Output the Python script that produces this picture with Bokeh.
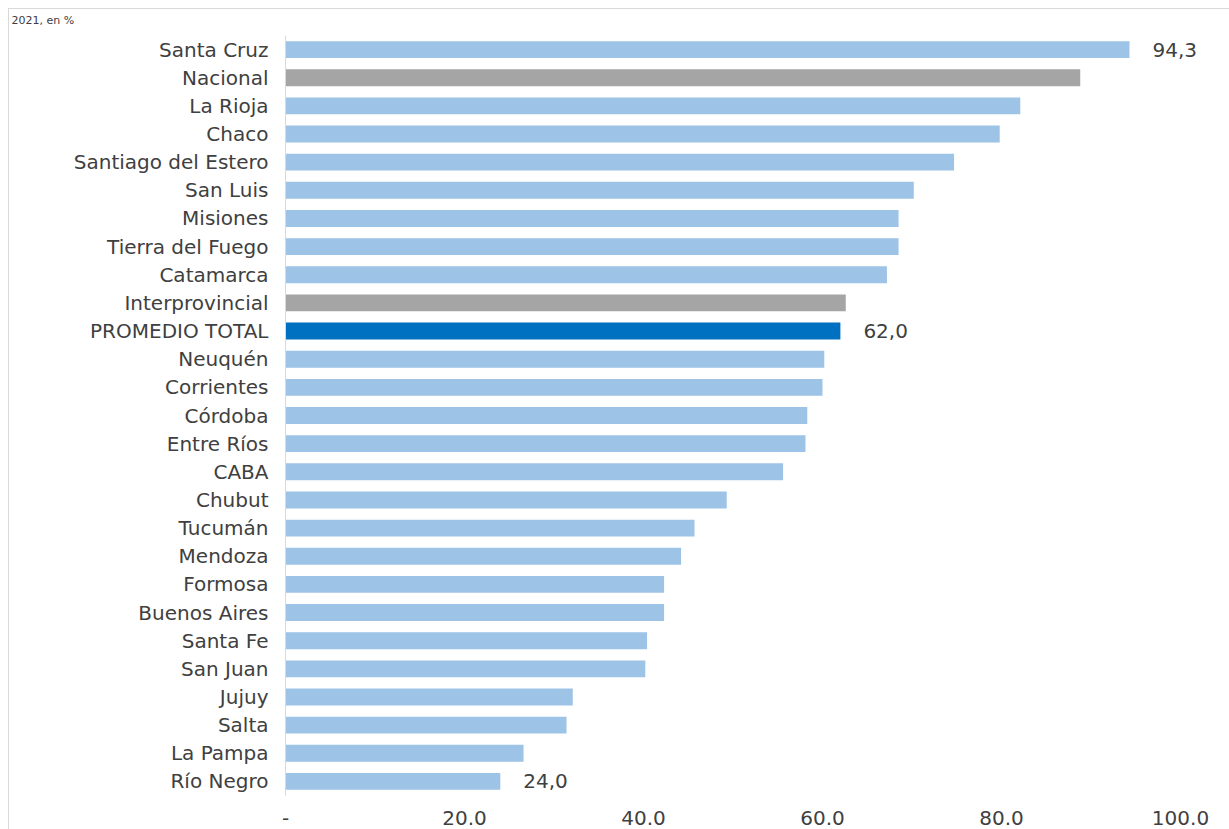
from bokeh.plotting import figure
from bokeh.models import ColumnDataSource, FixedTicker, FactorRange, Range1d
from bokeh.core.properties import value
from bokeh.embed import file_html
from bokeh.resources import INLINE

categories = ["Santa Cruz", "Nacional", "La Rioja", "Chaco", "Santiago del Estero",
              "San Luis", "Misiones", "Tierra del Fuego", "Catamarca", "Interprovincial",
              "PROMEDIO TOTAL", "Neuquén", "Corrientes", "Córdoba", "Entre Ríos", "CABA",
              "Chubut", "Tucumán", "Mendoza", "Formosa", "Buenos Aires", "Santa Fe",
              "San Juan", "Jujuy", "Salta", "La Pampa", "Río Negro"]
values = [94.3, 88.8, 82.1, 79.8, 74.7, 70.2, 68.5, 68.5, 67.2, 62.6,
          62.0, 60.2, 60.0, 58.3, 58.1, 55.6, 49.3, 45.7, 44.2, 42.3,
          42.3, 40.4, 40.2, 32.1, 31.4, 26.6, 24.0]
labelled = ["Santa Cruz", "PROMEDIO TOTAL", "Río Negro"]
tick_values = [0, 20, 40, 60, 80, 100]
tick_labels = ["-", "20.0", "40.0", "60.0", "80.0", "100.0"]
subtitle = "2021, en %"

LIGHT = "#9DC3E6"
GREY = "#A5A5A5"
BLUE = "#0070C0"
special = {"Nacional": GREY, "Interprovincial": GREY, "PROMEDIO TOTAL": BLUE}
colors = [special.get(c, LIGHT) for c in categories]

FONT = "DejaVu Sans"
TXT = "#404040"
FS = "20px"

src = ColumnDataSource(dict(cat=categories, val=values, color=colors))
lab_src = ColumnDataSource(dict(
    cat=[c for c in categories if c in labelled],
    val=[v for c, v in zip(categories, values) if c in labelled],
    txt=[f"{v:.1f}".replace(".", ",") for c, v in zip(categories, values) if c in labelled],
))

p = figure(width=1229, height=829, output_backend="svg", toolbar_location=None,
           y_range=FactorRange(factors=list(reversed(categories))),
           x_range=Range1d(0, 104.36),
           min_border_left=285, min_border_right=10, min_border_top=35, min_border_bottom=34)
p.styles = {
    "background": "linear-gradient(#D9D9D9,#D9D9D9) 8px 8px / 100% 1px no-repeat, "
                  "linear-gradient(#D9D9D9,#D9D9D9) 8px 8px / 1px 100% no-repeat, white"
}
p.outline_line_color = None
p.background_fill_color = "white"
p.border_fill_color = None
p.border_fill_alpha = 0
p.xgrid.visible = False
p.ygrid.visible = False

p.title.text = subtitle
p.title.text_font = FONT
p.title.text_font_size = "11px"
p.title.text_font_style = "normal"
p.title.text_color = TXT
p.title.align = "left"
p.title.offset = -274
p.title.standoff = 18

p.hbar(y="cat", right="val", left=0, height=0.6, color="color", line_color=None, source=src)
p.text(x="val", y="cat", text="txt", source=lab_src, x_offset=23,
       text_baseline="middle", text_align="left", text_color=TXT,
       text_font=value(FONT), text_font_size=FS)

ya = p.yaxis[0]
ya.axis_line_color = "#D9D9D9"
ya.axis_line_width = 1
ya.major_tick_line_color = None
ya.minor_tick_line_color = None
ya.major_label_standoff = 11
ya.major_label_text_font = FONT
ya.major_label_text_font_size = FS
ya.major_label_text_color = TXT

xa = p.xaxis[0]
xa.ticker = FixedTicker(ticks=tick_values)
xa.major_label_overrides = {t: l for t, l in zip(tick_values, tick_labels)}
xa.axis_line_color = None
xa.major_tick_line_color = None
xa.minor_tick_line_color = None
xa.major_label_standoff = 9
xa.major_label_text_font = FONT
xa.major_label_text_font_size = FS
xa.major_label_text_color = TXT

open("out.html", "w").write(file_html(p, INLINE))
